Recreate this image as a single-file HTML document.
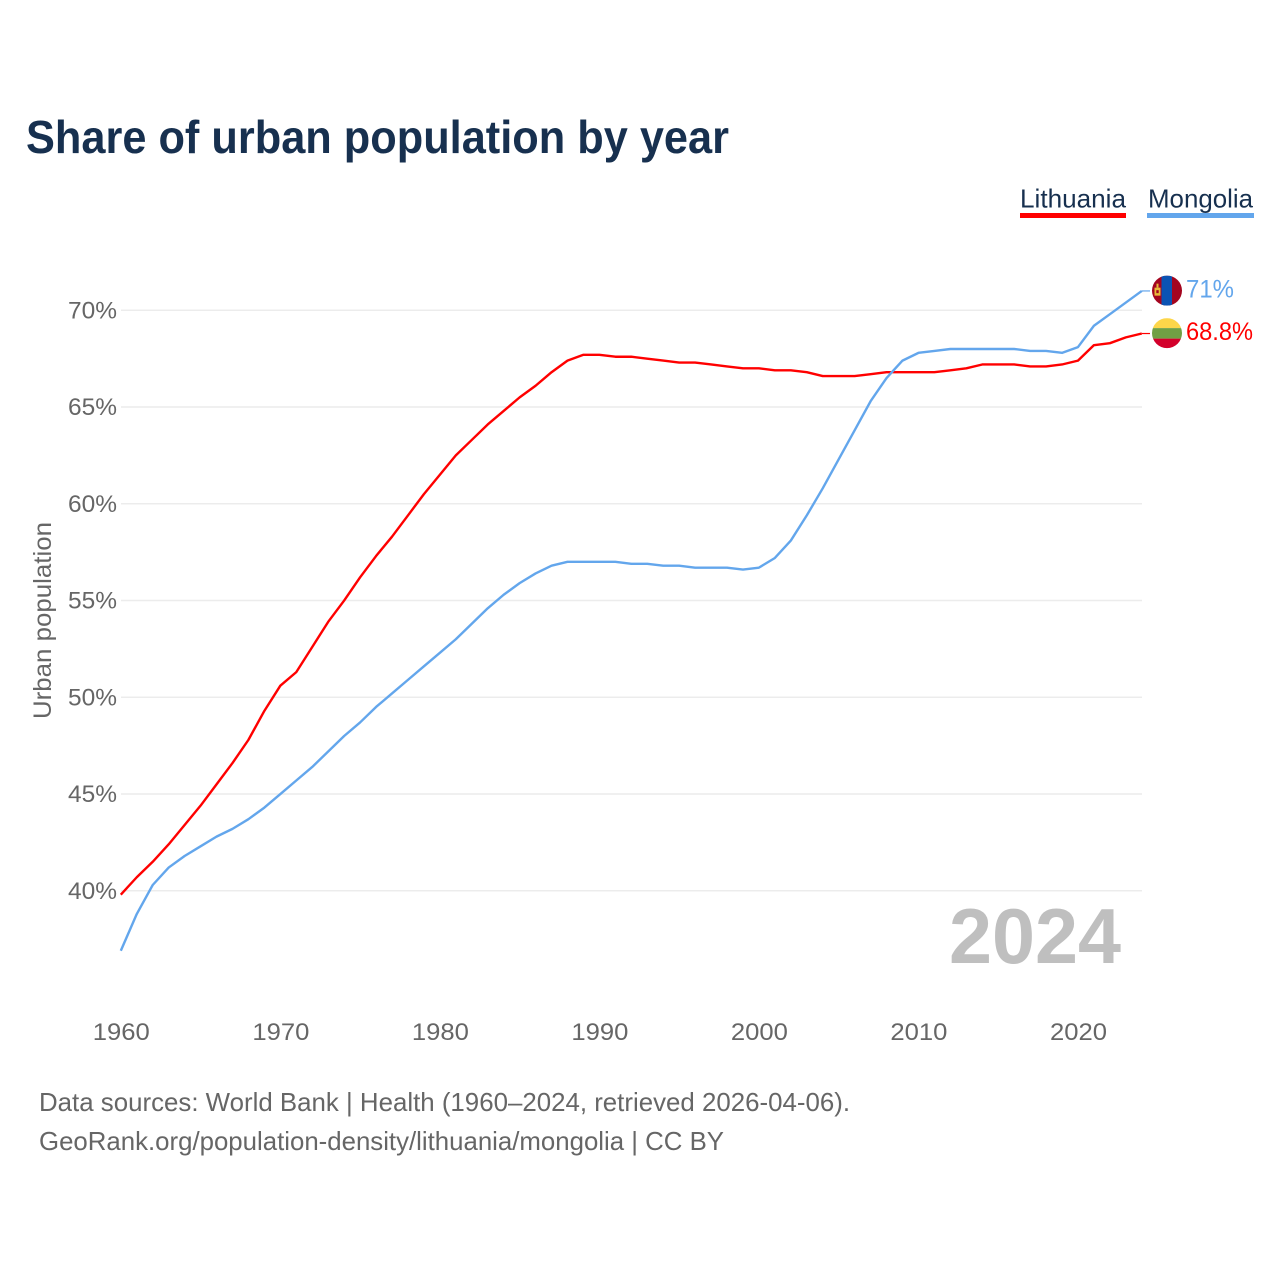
<!DOCTYPE html>
<html lang="en">
<head>
<meta charset="utf-8">
<title>Share of urban population by year</title>
<style>
html,body{margin:0;padding:0;background:#fff;}
svg{display:block;}
text{font-family:"Liberation Sans",sans-serif;}
</style>
</head>
<body>
<svg id="chart" xmlns="http://www.w3.org/2000/svg" width="1280" height="1280" viewBox="0 0 1280 1280">
  <defs>
    <clipPath id="clip-mn"><circle id="clip-mn-c" cx="1167" cy="290" r="15"></circle></clipPath>
    <clipPath id="clip-lt"><circle id="clip-lt-c" cx="1167" cy="333" r="15"></circle></clipPath>
  </defs>
  <rect width="1280" height="1280" fill="#fff"></rect>
  <text x="26" y="153" font-size="46" font-weight="700" fill="#17304f" textLength="703" lengthAdjust="spacingAndGlyphs">Share of urban population by year</text>
  <g>
    <g>
      <text x="1020" y="207.5" font-size="26" fill="#17304f" textLength="106" lengthAdjust="spacingAndGlyphs">Lithuania</text>
      <rect x="1020" y="213" width="106" height="5" fill="#ff0000"></rect>
    </g>
    <g>
      <text x="1148" y="207.5" font-size="26" fill="#17304f" textLength="105" lengthAdjust="spacingAndGlyphs">Mongolia</text>
      <rect x="1147" y="213" width="107" height="5" fill="#63a6ec"></rect>
    </g>
  </g>
  <g id="grid"></g>
  <g id="y-ticks"></g>
  <g id="x-ticks"></g>
  <text transform="translate(51,719) rotate(-90)" font-size="25" fill="#666" textLength="197" lengthAdjust="spacingAndGlyphs">Urban population</text>
  <text x="949" y="963" font-size="78" font-weight="700" fill="#bfbfbf" textLength="172" lengthAdjust="spacingAndGlyphs">2024</text>
  <g id="series"></g>
  <g id="flag-mn" clip-path="url(#clip-mn)"></g>
  <g id="flag-lt" clip-path="url(#clip-lt)"></g>
  <g id="end-labels"></g>
  <text x="39" y="1111" font-size="26" fill="#666" textLength="811" lengthAdjust="spacingAndGlyphs">Data sources: World Bank | Health (1960–2024, retrieved 2026-04-06).</text>
  <text x="39" y="1150" font-size="26" fill="#666" textLength="685" lengthAdjust="spacingAndGlyphs">GeoRank.org/population-density/lithuania/mongolia | CC BY</text>
</svg>
<script>
const years = [1960,1961,1962,1963,1964,1965,1966,1967,1968,1969,1970,1971,1972,1973,1974,1975,1976,1977,1978,1979,1980,1981,1982,1983,1984,1985,1986,1987,1988,1989,1990,1991,1992,1993,1994,1995,1996,1997,1998,1999,2000,2001,2002,2003,2004,2005,2006,2007,2008,2009,2010,2011,2012,2013,2014,2015,2016,2017,2018,2019,2020,2021,2022,2023,2024];
const lithuania = [39.8,40.7,41.5,42.4,43.4,44.4,45.5,46.6,47.8,49.3,50.6,51.3,52.6,53.9,55.0,56.2,57.3,58.3,59.4,60.5,61.5,62.5,63.3,64.1,64.8,65.5,66.1,66.8,67.4,67.7,67.7,67.6,67.6,67.5,67.4,67.3,67.3,67.2,67.1,67.0,67.0,66.9,66.9,66.8,66.6,66.6,66.6,66.7,66.8,66.8,66.8,66.8,66.9,67.0,67.2,67.2,67.2,67.1,67.1,67.2,67.4,68.2,68.3,68.6,68.8];
const mongolia = [36.9,38.8,40.3,41.2,41.8,42.3,42.8,43.2,43.7,44.3,45.0,45.7,46.4,47.2,48.0,48.7,49.5,50.2,50.9,51.6,52.3,53.0,53.8,54.6,55.3,55.9,56.4,56.8,57.0,57.0,57.0,57.0,56.9,56.9,56.8,56.8,56.7,56.7,56.7,56.6,56.7,57.2,58.1,59.4,60.8,62.3,63.8,65.3,66.5,67.4,67.8,67.9,68.0,68.0,68.0,68.0,68.0,67.9,67.9,67.8,68.1,69.2,69.8,70.4,71.0];
const yTickValues = [40,45,50,55,60,65,70];
const xTickValues = [1960,1970,1980,1990,2000,2010,2020];

const NS = 'http://www.w3.org/2000/svg';
const xScale = function (year) { return 120.8 + (year - 1960) * 15.953; };
const yScale = function (value) { return 890.8 - (value - 40) * 19.35; };

function make(tag, parent, attrs, content) {
  const el = document.createElementNS(NS, tag);
  for (const k in attrs) el.setAttribute(k, attrs[k]);
  if (content !== undefined) el.textContent = content;
  parent.appendChild(el);
  return el;
}

const grid = document.getElementById('grid');
const yTicks = document.getElementById('y-ticks');
const xTicks = document.getElementById('x-ticks');
const series = document.getElementById('series');
const endLabels = document.getElementById('end-labels');

yTickValues.forEach(function (v) {
  const line = make('line', grid, {x1: 121, x2: 1142, y1: yScale(v), y2: yScale(v), stroke: '#ececec', 'stroke-width': 1.5});
  
  
  const label = make('text', yTicks, {x: 117, y: yScale(v) + 8, 'font-size': 24, fill: '#666', 'text-anchor': 'end', textLength: 49, lengthAdjust: 'spacingAndGlyphs'}, v + '%');
  
  
});

xTickValues.forEach(function (y) {
  const label = make('text', xTicks, {x: xScale(y) + 0.5, y: 1040, 'font-size': 24, fill: '#666', 'text-anchor': 'middle', textLength: 57, lengthAdjust: 'spacingAndGlyphs'}, String(y));
  
  
});

function points(values) {
  return values.map(function (v, i) { return xScale(years[i]).toFixed(2) + ',' + yScale(v).toFixed(2); }).join(' ');
}

const lastX = xScale(years[years.length - 1]);
const ltLast = lithuania[lithuania.length - 1];
const mnLast = mongolia[mongolia.length - 1];

const ltLine = make('polyline', series, {points: points(lithuania), fill: 'none', stroke: '#ff0000', 'stroke-width': 2.4, 'stroke-linejoin': 'round'});


const mnLine = make('polyline', series, {points: points(mongolia), fill: 'none', stroke: '#63a6ec', 'stroke-width': 2.4, 'stroke-linejoin': 'round'});



const ltLead = make('line', series, {x1: lastX, x2: 1150, y1: yScale(ltLast), y2: yScale(ltLast), stroke: '#ff0000', 'stroke-width': 1.2});


const mnLead = make('line', series, {x1: lastX, x2: 1150, y1: yScale(mnLast), y2: yScale(mnLast), stroke: '#63a6ec', 'stroke-width': 1.2});



const mnY = yScale(mnLast) - 0.3;
const ltY = yScale(ltLast) - 0.4;
document.getElementById('clip-mn-c').setAttribute('cy', mnY);
document.getElementById('clip-lt-c').setAttribute('cy', ltY);

const flagMn = document.getElementById('flag-mn');
make('rect', flagMn, {x: 1152, y: mnY - 15, width: 30, height: 30, fill: '#a4051f'});
make('rect', flagMn, {x: 1161.5, y: mnY - 15, width: 10.5, height: 30, fill: '#0b53b3'});
make('rect', flagMn, {x: 1154.5, y: mnY - 3, width: 6, height: 8, fill: '#e8b93a'});
make('rect', flagMn, {x: 1156.5, y: mnY - 7, width: 2, height: 4, fill: '#e8b93a'});
make('rect', flagMn, {x: 1156.3, y: mnY - 0.5, width: 2.4, height: 3, fill: '#a4051f'});

const flagLt = document.getElementById('flag-lt');
make('rect', flagLt, {x: 1152, y: ltY - 15, width: 30, height: 10, fill: '#fdd64a'});
make('rect', flagLt, {x: 1152, y: ltY - 5, width: 30, height: 10.5, fill: '#70a044'});
make('rect', flagLt, {x: 1152, y: ltY + 5.5, width: 30, height: 10, fill: '#d3002b'});

const mnLabel = make('text', endLabels, {x: 1186, y: mnY + 7, 'font-size': 25, fill: '#63a6ec', textLength: 48, lengthAdjust: 'spacingAndGlyphs'}, mnLast.toFixed(0) + '%');


const ltLabel = make('text', endLabels, {x: 1186, y: ltY + 7, 'font-size': 25, fill: '#ff0000', textLength: 67, lengthAdjust: 'spacingAndGlyphs'}, ltLast.toFixed(1) + '%');


</script>
</body>
</html>
